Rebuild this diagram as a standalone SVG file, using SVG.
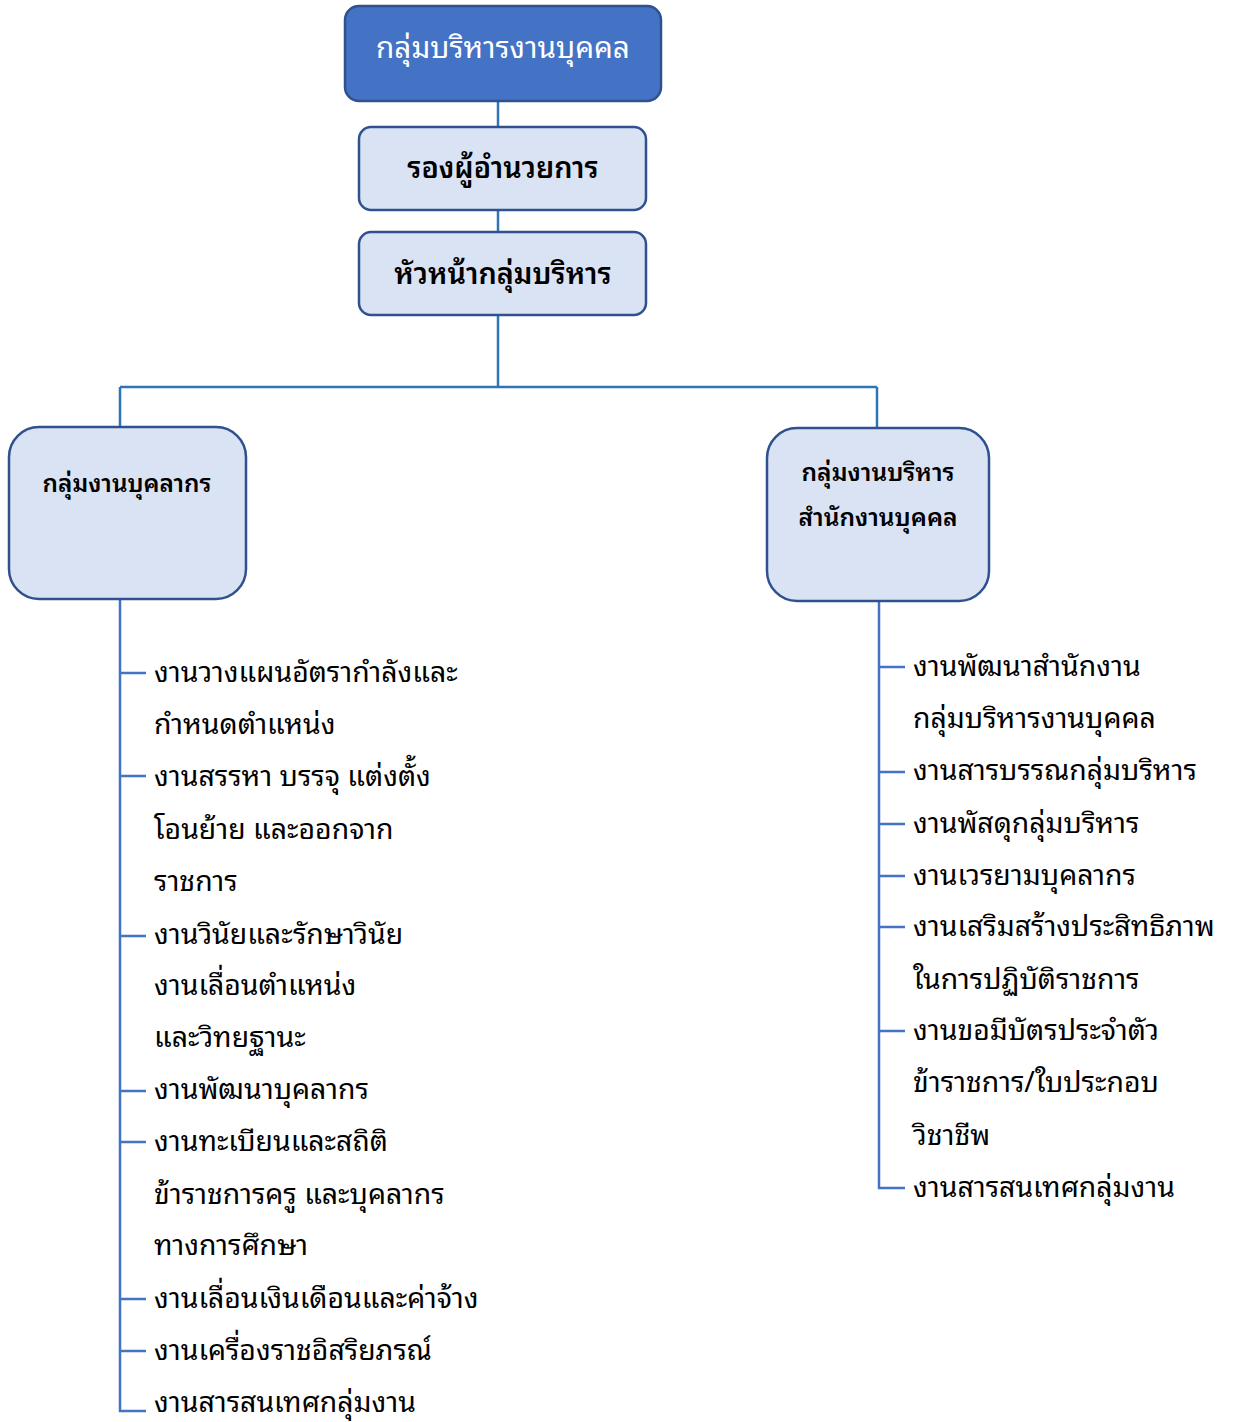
<svg xmlns="http://www.w3.org/2000/svg" width="1238" height="1422" viewBox="0 0 1238 1422">
<style>
text{font-family:"Noto Sans Thai Looped","Loma","Garuda","Tahoma","Noto Sans Thai","DejaVu Sans","Noto Sans",sans-serif;fill:#000}
.top{fill:#4472C4;stroke:#2F528F;stroke-width:2.5}
.box{fill:#DAE3F3;stroke:#2F528F;stroke-width:2.5}
.conn{stroke:#2E75B6;stroke-width:2.5;fill:none}
.list{stroke:#4472C4;stroke-width:2.5;fill:none}
.h{font-weight:600;text-anchor:middle}
.it{font-size:28.4px}
</style>
<g id="connectors">
<path class="conn" d="M498 101V127M498 210V232M498 315V387M120 387H877M120 387V427M877 387V428"/>
<path class="list" d="M120 600V1411H146M120 673H146M120 776H146M120 936H146M120 1091H146M120 1142H146M120 1299H146M120 1351H146"/>
<path class="list" d="M879 601V1188H905M879 667H905M879 772H905M879 824H905M879 876H905M879 927H905M879 1031H905"/>
</g>
<g id="n-top">
<rect class="top" x="345" y="6" width="316" height="95" rx="14"/>
<text x="503" y="44" class="h" style="font-weight:normal;fill:#fff;font-size:29.7px" dominant-baseline="central">กลุ่มบริหารงานบุคคล</text>
</g>
<g id="n-deputy">
<rect class="box" x="359" y="127" width="287" height="83" rx="12"/>
<text x="503" y="165" class="h" style="font-size:28.8px" dominant-baseline="central">รองผู้อำนวยการ</text>
</g>
<g id="n-head">
<rect class="box" x="359" y="232" width="287" height="83" rx="12"/>
<text x="503" y="271" class="h" style="font-size:28.8px" dominant-baseline="central">หัวหน้ากลุ่มบริหาร</text>
</g>
<g id="n-left">
<rect class="box" x="9" y="427" width="237" height="172" rx="30"/>
<text x="127" y="481" class="h" style="font-size:24.3px" dominant-baseline="central">กลุ่มงานบุคลากร</text>
</g>
<g id="n-right">
<rect class="box" x="767" y="428" width="222" height="173" rx="30"/>
<text x="878" y="470" class="h" style="font-size:24.5px" dominant-baseline="central">กลุ่มงานบริหาร</text>
<text x="878" y="515" class="h" style="font-size:24.5px" dominant-baseline="central">สำนักงานบุคคล</text>
</g>
<g id="list-left" class="it">
<text x="154" y="669" dominant-baseline="central">งานวางแผนอัตรากำลังและ</text>
<text x="154" y="721" dominant-baseline="central">กำหนดตำแหน่ง</text>
<text x="154" y="773" dominant-baseline="central">งานสรรหา บรรจุ แต่งตั้ง</text>
<text x="154" y="826" dominant-baseline="central">โอนย้าย และออกจาก</text>
<text x="154" y="878" dominant-baseline="central">ราชการ</text>
<text x="154" y="931" dominant-baseline="central">งานวินัยและรักษาวินัย</text>
<text x="154" y="982" dominant-baseline="central">งานเลื่อนตำแหน่ง</text>
<text x="154" y="1034" dominant-baseline="central">และวิทยฐานะ</text>
<text x="154" y="1086" dominant-baseline="central">งานพัฒนาบุคลากร</text>
<text x="154" y="1138" dominant-baseline="central">งานทะเบียนและสถิติ</text>
<text x="154" y="1191" dominant-baseline="central">ข้าราชการครู และบุคลากร</text>
<text x="154" y="1242" dominant-baseline="central">ทางการศึกษา</text>
<text x="154" y="1295" dominant-baseline="central">งานเลื่อนเงินเดือนและค่าจ้าง</text>
<text x="154" y="1347" dominant-baseline="central">งานเครื่องราชอิสริยภรณ์</text>
<text x="154" y="1399" dominant-baseline="central">งานสารสนเทศกลุ่มงาน</text>
</g>
<g id="list-right" class="it">
<text x="913" y="663" dominant-baseline="central">งานพัฒนาสำนักงาน</text>
<text x="913" y="715" dominant-baseline="central">กลุ่มบริหารงานบุคคล</text>
<text x="913" y="767" dominant-baseline="central">งานสารบรรณกลุ่มบริหาร</text>
<text x="913" y="820" dominant-baseline="central">งานพัสดุกลุ่มบริหาร</text>
<text x="913" y="872" dominant-baseline="central">งานเวรยามบุคลากร</text>
<text x="913" y="923" dominant-baseline="central">งานเสริมสร้างประสิทธิภาพ</text>
<text x="913" y="976" dominant-baseline="central">ในการปฏิบัติราชการ</text>
<text x="913" y="1027" dominant-baseline="central">งานขอมีบัตรประจำตัว</text>
<text x="913" y="1079" dominant-baseline="central">ข้าราชการ/ใบประกอบ</text>
<text x="913" y="1132" dominant-baseline="central">วิชาชีพ</text>
<text x="913" y="1184" dominant-baseline="central">งานสารสนเทศกลุ่มงาน</text>
</g>
</svg>
